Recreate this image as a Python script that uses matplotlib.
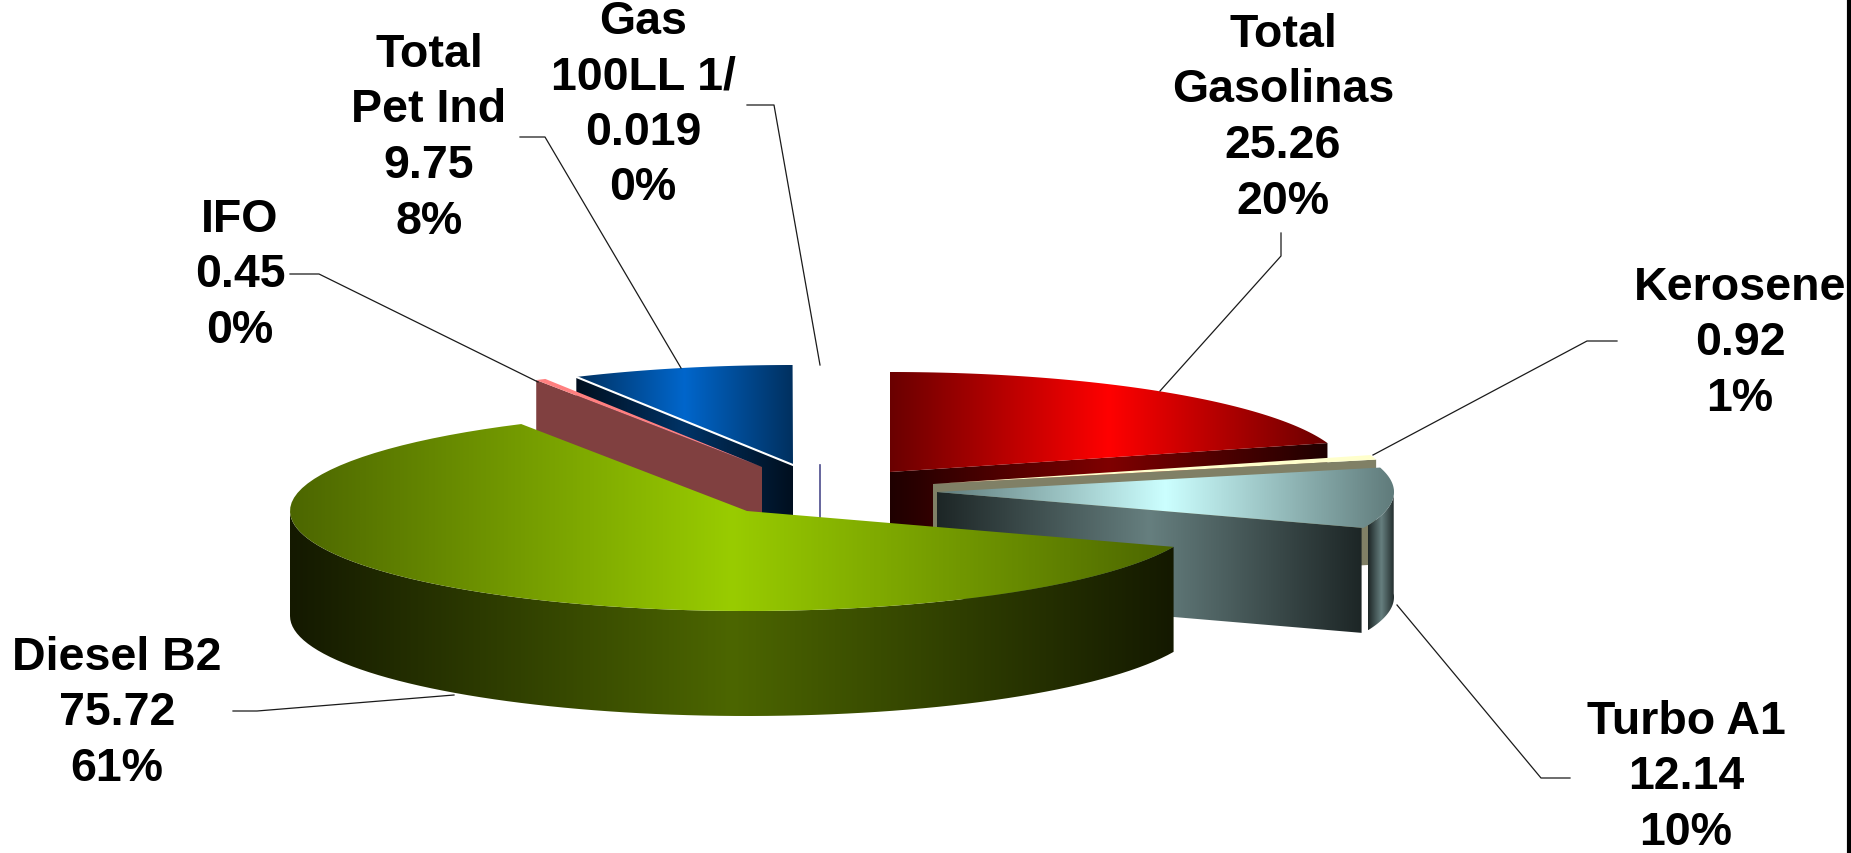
import numpy as np
import matplotlib
matplotlib.use('Agg')
import matplotlib.pyplot as plt
from matplotlib.colors import LinearSegmentedColormap
from matplotlib.patches import Polygon

# -----------------------------
# Data
# -----------------------------
products = ['Total\nGasolinas', 'Kerosene', 'Turbo A1', 'Diesel B2', 'IFO', 'Total\nPet Ind', 'Gas\n100LL 1/']
values = [25.26, 0.92, 12.14, 75.72, 0.45, 9.75, 0.019]
value_labels = ['25.26', '0.92', '12.14', '75.72', '0.45', '9.75', '0.019']
percents = ['20%', '1%', '10%', '61%', '0%', '8%', '0%']

# -----------------------------
# Layout (everything in image pixels)
# -----------------------------
W, H = 1851, 854
DEPTH = 105
RX = 457
RY = 100
# exploded centre of each slice
centers = [(890, 473), (933, 485), (937, 493), (747, 512), (762, 468), (793, 466), (820, 466)]

# centre x and first baseline y of each label
label_pos = [(1283, 47), (1740, 300), (1686, 734), (117, 670), (240, 232), (429, 67), (643, 34)]
LINE_STEP = 55.5

leaders = [
    [(1281, 234), (1281, 257), (1160, 392)],
    [(1617, 342), (1587, 342), (1373, 456)],
    [(1570, 779), (1541, 779), (1397, 606)],
    [(233, 712), (257, 712), (454, 696)],
    [(290, 275), (319, 275), (538, 383)],
    [(520, 138), (545, 138), (681, 369)],
    [(747, 106), (774, 106), (820, 366)],
]

# slice angles, clockwise from 12 o'clock
total = sum(values)
cum = np.cumsum([0] + values) / total * 360
start = cum[:-1]
end = cum[1:]


def rim(i, t0, t1, dy=0, n=80):
    cx, cy = centers[i]
    t = np.radians(np.linspace(t0, t1, n))
    return np.column_stack([cx + RX * np.sin(t), cy - RY * np.cos(t) + dy])


def top_face(i):
    return np.vstack([[centers[i]], rim(i, start[i], end[i])])


def radial_wall(i, angle):
    cx, cy = centers[i]
    edge = rim(i, angle, angle, n=1)[0]
    return np.array([(cx, cy), edge, edge + (0, DEPTH), (cx, cy + DEPTH)])


def outer_wall(i, t0, t1):
    return np.vstack([rim(i, t0, t1), rim(i, t1, t0, dy=DEPTH)])


def gradient(ax, pts, edge, mid, z):
    x0, y0 = pts.min(axis=0)
    x1, y1 = pts.max(axis=0)
    cmap = LinearSegmentedColormap.from_list('g', [edge, mid, edge])
    im = ax.imshow(np.linspace(0, 1, 512).reshape(1, -1), extent=[x0, x1, y1, y0],
                   cmap=cmap, aspect='auto', zorder=z, interpolation='bilinear')
    clip = Polygon(pts, closed=True, transform=ax.transData)
    im.set_clip_path(clip)


def flat(ax, pts, color, z):
    ax.add_patch(Polygon(pts, closed=True, facecolor=color, edgecolor='none', zorder=z))


# -----------------------------
# Figure
# -----------------------------
fig = plt.figure(figsize=(W / 100, H / 100), dpi=100)
ax = fig.add_axes([0, 0, 1, 1])

GAS, KER, TURBO, DIESEL, IFO, PET, AV = range(7)

# back slices first
gradient(ax, radial_wall(PET, start[PET]), '#000f1f', '#003366', 1)
gradient(ax, top_face(PET), '#00305f', '#0066cc', 2)
pet_edge = radial_wall(PET, start[PET])[:2]
ax.plot(pet_edge[:, 0], pet_edge[:, 1], color='white', lw=1.5, zorder=3)

av_wall = radial_wall(AV, start[AV])
ax.plot([av_wall[0, 0], av_wall[0, 0]], [av_wall[0, 1], av_wall[3, 1]], color='#4b4b8c', lw=1.2, zorder=3)

flat(ax, radial_wall(IFO, start[IFO]), '#804040', 4)
flat(ax, top_face(IFO), '#ff8080', 5)

gradient(ax, radial_wall(GAS, end[GAS]), '#1f0000', '#7f0000', 6)
gradient(ax, top_face(GAS), '#6a0000', '#ff0000', 7)

flat(ax, radial_wall(KER, end[KER]), '#808066', 8)
flat(ax, top_face(KER), '#ffffcc', 9)

# Turbo: outer wall leaves a small gap to the cut face
gradient(ax, outer_wall(TURBO, 88, end[TURBO] - 1.5), '#1d2626', '#667f7f', 10)
turbo_cut = radial_wall(TURBO, end[TURBO])
turbo_cut[1:3, 0] -= 2
gradient(ax, turbo_cut, '#1d2626', '#667f7f', 11)
gradient(ax, top_face(TURBO), '#607b7b', '#ccffff', 12)

# Diesel sits in front of everything
gradient(ax, outer_wall(DIESEL, start[DIESEL], 270), '#141900', '#4c6600', 13)
gradient(ax, top_face(DIESEL), '#4c6600', '#99cc00', 14)

# -----------------------------
# Leader lines and labels
# -----------------------------
for pts in leaders:
    xs, ys = zip(*pts)
    ax.plot(xs, ys, color='#1a1a1a', lw=0.9, zorder=15)

for i, name in enumerate(products):
    lines = name.split('\n') + [value_labels[i], percents[i]]
    x, y = label_pos[i]
    for k, line in enumerate(lines):
        ax.text(x, y + k * LINE_STEP, line, ha='center', va='baseline', fontsize=33.5,
                fontweight='bold', family='Liberation Sans', color='black', zorder=16)

# black border on the right edge of the picture
ax.axvline(W - 2, color='black', lw=3, zorder=17)

ax.set_xlim(0, W)
ax.set_ylim(H, 0)
ax.axis('off')

fig.savefig('out.png', dpi=100)
plt.close(fig)
